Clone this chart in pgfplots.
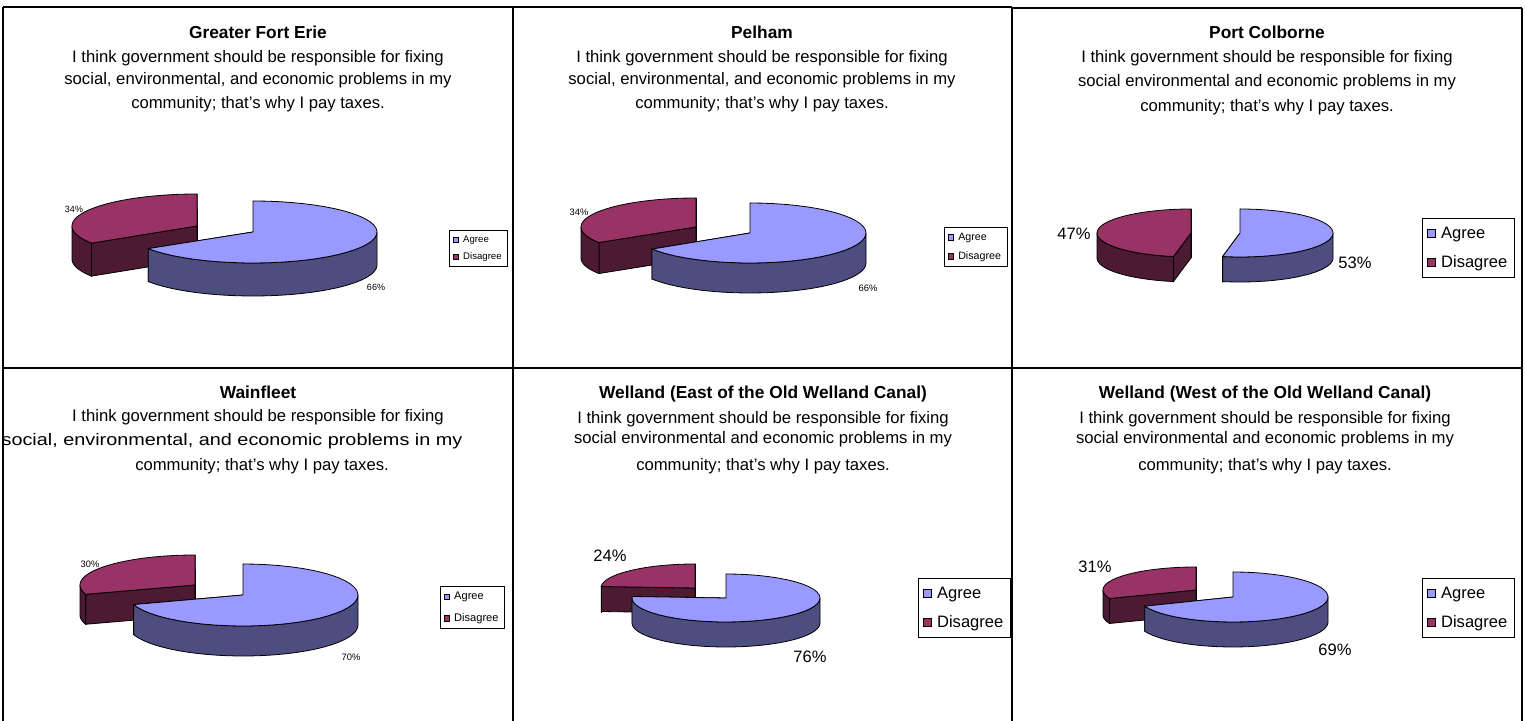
\documentclass[border=0pt]{standalone}
\usepackage{pgfplots}
\pgfplotsset{compat=1.18}
\usepackage{fontspec}
\setmainfont{Liberation Sans}
\definecolor{agT}{HTML}{9999FF}
\definecolor{agS}{HTML}{4D4D80}
\definecolor{diT}{HTML}{993366}
\definecolor{diS}{HTML}{4C1A33}

% cut face: cx cy rx ry depth angle colour   (cx, cy in picture pixels, y from top)
\newcommand{\cutface}[7]{%
  \addplot[forget plot, fill=#7, draw=black, line width=0.6pt, samples at={0,1,2,3,4}, variable=\t]
   ({#1+(\t>0.5)*(\t<2.5)*#3*cos(#6)},{721-#2+(\t>0.5)*(\t<2.5)*#4*sin(#6)-(\t>1.5)*(\t<3.5)*#5});
}
% outer wall between angles w1 and w2
\newcommand{\wall}[8]{%
  \addplot[forget plot, fill=#8, draw=black, line width=0.6pt, samples at={0,1,...,82}, variable=\t]
   ({#1+#3*cos((\t<40.5)*((#6)+((#7)-(#6))*\t/40)+(\t>40.5)*(\t<81.5)*((#7)-((#7)-(#6))*(\t-41)/40)+(\t>81.5)*(#6))},
    {721-#2+#4*sin((\t<40.5)*((#6)+((#7)-(#6))*\t/40)+(\t>40.5)*(\t<81.5)*((#7)-((#7)-(#6))*(\t-41)/40)+(\t>81.5)*(#6))-(\t>40.5)*(\t<81.5)*#5});
}
% top face between angles a and b
\newcommand{\topface}[7]{%
  \addplot[forget plot, fill=#7, draw=black, line width=0.6pt, samples at={0,1,...,42}, variable=\t]
   ({#1+(\t>0.5)*(\t<41.5)*#3*cos((#5)+((#6)-(#5))*(\t-1)/40)},{721-#2+(\t>0.5)*(\t<41.5)*#4*sin((#5)+((#6)-(#5))*(\t-1)/40)});
}
% Agree slice: cx cy rx ry depth value(%)
\newcommand{\agree}[6]{%
  \cutface{#1}{#2}{#3}{#4}{#5}{90-3.6*#6}{agS}
  \cutface{#1}{#2}{#3}{#4}{#5}{90}{agS}
  \wall{#1}{#2}{#3}{#4}{#5}{max(90-3.6*#6,-180)}{0}{agS}
  \topface{#1}{#2}{#3}{#4}{90-3.6*#6}{90}{agT}
}
% Disagree slice: cx cy rx ry depth value(%)
\newcommand{\disagree}[6]{%
  \cutface{#1}{#2}{#3}{#4}{#5}{90}{diS}
  \cutface{#1}{#2}{#3}{#4}{#5}{90+3.6*#6}{diS}
  \wall{#1}{#2}{#3}{#4}{#5}{180}{max(90+3.6*#6,180)}{diS}
  \topface{#1}{#2}{#3}{#4}{90}{90+3.6*#6}{diT}
}
\newcommand{\ttl}[3]{\node[font=\fontsize{13}{15}\bfseries\selectfont, anchor=base] at (axis cs:#1,{721-#2}) {#3};}
\newcommand{\sub}[3]{\node[font=\fontsize{12.5}{15}\selectfont, anchor=base] at (axis cs:#1,{721-#2}) {#3};}
\newcommand{\lab}[4]{\node[font=\fontsize{#4}{#4}\selectfont, inner sep=0pt] at (axis cs:#1,{721-#2}) {#3};}
\newcommand{\questA}[4]{% x, baselines of three lines, with commas
  \sub{#1}{#2}{I think government should be responsible for fixing}
  \sub{#1}{#3}{social, environmental, and economic problems in my}
  \sub{#1}{#4}{community; that's why I pay taxes.}
}
\newcommand{\questB}[4]{% without commas
  \sub{#1}{#2}{I think government should be responsible for fixing}
  \sub{#1}{#3}{social environmental and economic problems in my}
  \sub{#1}{#4}{community; that's why I pay taxes.}
}

\pgfplotsset{
  panel/.style={width=1143.75pt, height=540.75pt, scale only axis,
    xmin=0, xmax=1525, ymin=0, ymax=721, hide axis, clip=false,
    at={(0pt,0pt)}, anchor=south west, legend cell align=left,
    legend style={draw=black, line width=0.6pt, fill=white, anchor=north west}},
  smalllegend/.style 2 args={legend style={font=\fontsize{#1}{#1}\selectfont, row sep=#2, inner xsep=2.5pt, inner ysep=2pt,
      /tikz/every odd column/.append style={column sep=1.5pt}},
    legend image code/.code={\draw[##1,draw=black,line width=0.4pt] (0pt,-2pt) rectangle (4pt,2pt);}},
  biglegend/.style={legend style={font=\fontsize{12.4}{12.4}\selectfont, row sep=7pt, inner xsep=3.5pt, inner ysep=4.5pt,
      /tikz/every odd column/.append style={column sep=2pt}},
    legend image code/.code={\draw[##1,draw=black,line width=0.5pt] (0pt,-3pt) rectangle (6pt,3pt);}},
}

\begin{document}
\begin{tikzpicture}
% ---------- Greater Fort Erie ----------
\begin{axis}[panel, smalllegend={7.2}{2pt}, legend style={at={(0.2944,0.6810)}}]
  \disagree{197}{226}{125}{32}{33}{34}
  \agree{253}{232}{124}{31}{33}{66}
  \addlegendimage{fill=agT}\addlegendentry{Agree}
  \addlegendimage{fill=diT}\addlegendentry{Disagree}
  \ttl{258}{39}{Greater Fort Erie}
  \questA{258}{63}{85}{109}
  \lab{74}{209}{34\%}{6.75}
  \lab{376}{287}{66\%}{6.75}
\end{axis}
% ---------- Pelham ----------
\begin{axis}[panel, smalllegend={8}{3pt}, legend style={at={(0.6190,0.6852)}}]
  \disagree{696}{227}{115}{29}{31}{34}
  \agree{750}{233}{116}{30}{30}{66}
  \addlegendimage{fill=agT}\addlegendentry{Agree}
  \addlegendimage{fill=diT}\addlegendentry{Disagree}
  \ttl{762}{39}{Pelham}
  \questA{762}{63}{85}{109}
  \lab{579}{212}{34\%}{7}
  \lab{868}{288}{66\%}{7}
\end{axis}
% ---------- Port Colborne ----------
\begin{axis}[panel, biglegend, legend style={at={(0.9325,0.6976)}}]
  \disagree{1191}{233}{94}{24}{25}{47}
  \agree{1240}{233}{93}{24}{25}{53}
  \addlegendimage{fill=agT}\addlegendentry{Agree}
  \addlegendimage{fill=diT}\addlegendentry{Disagree}
  \ttl{1267}{39}{Port Colborne}
  \questB{1267}{63}{87}{112}
  \lab{1074}{234}{47\%}{12.4}
  \lab{1355}{263}{53\%}{12.4}
\end{axis}
% ---------- Wainfleet ----------
\begin{axis}[panel, smalllegend={8.3}{5pt}, legend style={at={(0.2885,0.1872)}}]
  \disagree{195}{585}{115}{30}{30}{30}
  \agree{243}{595}{115}{31}{30}{70}
  \addlegendimage{fill=agT}\addlegendentry{Agree}
  \addlegendimage{fill=diT}\addlegendentry{Disagree}
  \ttl{258}{399}{Wainfleet}
  \sub{258}{422}{I think government should be responsible for fixing}
  \node[font=\fontsize{12.5}{15}\selectfont, anchor=base, xscale=1.19] at (axis cs:232,{721-446}) {social, environmental, and economic problems in my};
  \sub{262}{471}{community; that's why I pay taxes.}
  \lab{90}{564}{30\%}{7}
  \lab{351}{657}{70\%}{7}
\end{axis}
% ---------- Welland East ----------
\begin{axis}[panel, biglegend, legend style={at={(0.6020,0.1983)}}]
  \disagree{695}{588}{94}{24}{25}{24}
  \agree{726}{598}{94}{24}{25}{76}
  \addlegendimage{fill=agT}\addlegendentry{Agree}
  \addlegendimage{fill=diT}\addlegendentry{Disagree}
  \ttl{763}{399}{Welland (East of the Old Welland Canal)}
  \questB{763}{424}{444}{471}
  \lab{610}{556}{24\%}{12.4}
  \lab{810}{657}{76\%}{12.4}
\end{axis}
% ---------- Welland West ----------
\begin{axis}[panel, biglegend, legend style={at={(0.9325,0.1983)}}]
  \disagree{1196}{590}{93}{23}{25}{31}
  \agree{1233}{597}{95}{25}{25}{69}
  \addlegendimage{fill=agT}\addlegendentry{Agree}
  \addlegendimage{fill=diT}\addlegendentry{Disagree}
  \ttl{1265}{399}{Welland (West of the Old Welland Canal)}
  \questB{1265}{424}{444}{471}
  \lab{1095}{567}{31\%}{12.4}
  \lab{1335}{650}{69\%}{12.4}
  % panel frames
  \draw[line width=1.4pt] (axis cs:3,714) -- (axis cs:1012,714);
  \draw[line width=1.4pt] (axis cs:1012,713) -- (axis cs:1522,713);
  \draw[line width=1.4pt] (axis cs:3,714) -- (axis cs:3,0);
  \draw[line width=1.4pt] (axis cs:513,714) -- (axis cs:513,0);
  \draw[line width=1.4pt] (axis cs:1012,714) -- (axis cs:1012,0);
  \draw[line width=1.4pt] (axis cs:1522,713) -- (axis cs:1522,0);
  \draw[line width=1.4pt] (axis cs:3,353) -- (axis cs:1522,353);
\end{axis}
\pgfresetboundingbox
\path (0pt,0pt) rectangle (1143.75pt,540.75pt);
\end{tikzpicture}
\end{document}
